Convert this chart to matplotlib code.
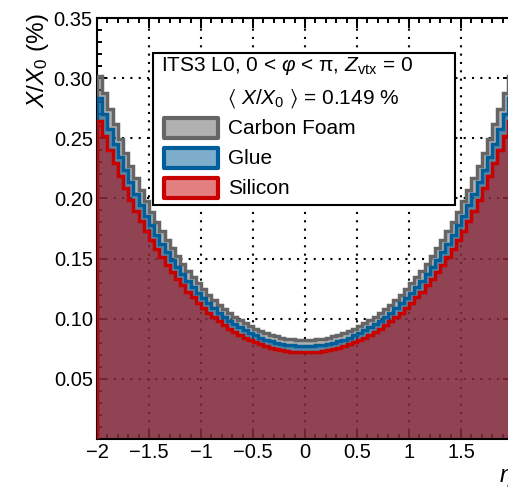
import numpy as np
import matplotlib
matplotlib.use("Agg")
import matplotlib.pyplot as plt
from matplotlib.patches import Rectangle
from matplotlib.ticker import MultipleLocator, FuncFormatter

plt.rcParams['font.family'] = ['Liberation Sans', 'DejaVu Sans']
plt.rcParams['mathtext.fontset'] = 'custom'
plt.rcParams['mathtext.rm'] = 'Liberation Sans'
plt.rcParams['mathtext.it'] = 'Liberation Sans:italic'
plt.rcParams['mathtext.fallback'] = 'stixsans'

# 80 bins in eta from -2 to 2, stacked tops (in % of X0)
eta_edges = np.linspace(-2, 2, 81)

silicon = [0.2644, 0.2520, 0.2403, 0.2291, 0.2185, 0.2085, 0.1989, 0.1899, 0.1814, 0.1733,
           0.1656, 0.1583, 0.1515, 0.1450, 0.1389, 0.1331, 0.1277, 0.1226, 0.1178, 0.1133,
           0.1090, 0.1051, 0.1014, 0.0979, 0.0947, 0.0918, 0.0890, 0.0865, 0.0842, 0.0822,
           0.0803, 0.0786, 0.0771, 0.0758, 0.0747, 0.0738, 0.0731, 0.0726, 0.0722, 0.0720,
           0.0720, 0.0722, 0.0726, 0.0731, 0.0738, 0.0747, 0.0758, 0.0771, 0.0786, 0.0803,
           0.0822, 0.0842, 0.0865, 0.0890, 0.0918, 0.0947, 0.0979, 0.1014, 0.1051, 0.1090,
           0.1133, 0.1178, 0.1226, 0.1277, 0.1331, 0.1389, 0.1450, 0.1515, 0.1583, 0.1656,
           0.1733, 0.1814, 0.1899, 0.1989, 0.2085, 0.2185, 0.2291, 0.2403, 0.2520, 0.2644]

glue = [0.2835, 0.2702, 0.2576, 0.2456, 0.2343, 0.2235, 0.2133, 0.2036, 0.1945, 0.1858,
        0.1776, 0.1698, 0.1624, 0.1555, 0.1489, 0.1427, 0.1369, 0.1314, 0.1263, 0.1214,
        0.1169, 0.1127, 0.1087, 0.1050, 0.1016, 0.0984, 0.0955, 0.0928, 0.0903, 0.0881,
        0.0861, 0.0843, 0.0827, 0.0813, 0.0801, 0.0792, 0.0784, 0.0778, 0.0774, 0.0772,
        0.0772, 0.0774, 0.0778, 0.0784, 0.0792, 0.0801, 0.0813, 0.0827, 0.0843, 0.0861,
        0.0881, 0.0903, 0.0928, 0.0955, 0.0984, 0.1016, 0.1050, 0.1087, 0.1127, 0.1169,
        0.1214, 0.1263, 0.1314, 0.1369, 0.1427, 0.1489, 0.1555, 0.1624, 0.1698, 0.1776,
        0.1858, 0.1945, 0.2036, 0.2133, 0.2235, 0.2343, 0.2456, 0.2576, 0.2702, 0.2835]

carbon_foam = [0.3019, 0.2877, 0.2743, 0.2616, 0.2495, 0.2380, 0.2271, 0.2168, 0.2071, 0.1978,
               0.1891, 0.1808, 0.1729, 0.1655, 0.1586, 0.1520, 0.1458, 0.1399, 0.1344, 0.1293,
               0.1245, 0.1199, 0.1157, 0.1118, 0.1081, 0.1048, 0.1016, 0.0988, 0.0962, 0.0938,
               0.0917, 0.0897, 0.0880, 0.0866, 0.0853, 0.0843, 0.0835, 0.0828, 0.0824, 0.0822,
               0.0822, 0.0824, 0.0828, 0.0835, 0.0843, 0.0853, 0.0866, 0.0880, 0.0897, 0.0917,
               0.0938, 0.0962, 0.0988, 0.1016, 0.1048, 0.1081, 0.1118, 0.1157, 0.1199, 0.1245,
               0.1293, 0.1344, 0.1399, 0.1458, 0.1520, 0.1586, 0.1655, 0.1729, 0.1808, 0.1891,
               0.1978, 0.2071, 0.2168, 0.2271, 0.2380, 0.2495, 0.2616, 0.2743, 0.2877, 0.3019]

names = ["Carbon Foam", "Glue", "Silicon"]
colors = [(0.396, 0.396, 0.396), (0.0, 0.373, 0.608), (0.788, 0.0, 0.0)]
y_ticks = [0.05, 0.10, 0.15, 0.20, 0.25, 0.30, 0.35]

W, H = 508, 488
fig = plt.figure(figsize=(W / 100, H / 100), dpi=100)
ax = fig.add_axes([97 / W, 1 - 439 / H, (513 - 97) / W, (439 - 18) / H])

for vals, col in zip([carbon_foam, glue, silicon], colors):
    ax.stairs(vals, eta_edges, fill=True, facecolor=col, alpha=0.5, linewidth=0, zorder=2)
    ax.stairs(vals, eta_edges, color=col, linewidth=2.5, zorder=3)

ax.set_xlim(-2, 2)
ax.set_ylim(0, 0.35)
ax.xaxis.set_major_locator(MultipleLocator(0.5))
ax.xaxis.set_minor_locator(MultipleLocator(0.1))
ax.set_yticks(y_ticks)
ax.yaxis.set_minor_locator(MultipleLocator(0.01))
ax.xaxis.set_major_formatter(FuncFormatter(lambda v, p: ("%g" % v).replace("-", "\u2212")))
ax.yaxis.set_major_formatter(FuncFormatter(lambda v, p: "%.2f" % v))
ax.tick_params(which='both', direction='in', top=True, right=True, width=1.4, labelsize=14.5)
ax.tick_params(which='major', length=7, pad=3)
ax.tick_params(which='minor', length=3.5)
for s in ax.spines.values():
    s.set_linewidth(1.5)
ax.set_axisbelow(True)
ax.grid(True, which='major', color='black', linestyle=(0, (1, 3)), linewidth=1.5)

# overlay in pixel coordinates for legend and titles
ov = fig.add_axes([0, 0, 1, 1])
ov.set_xlim(0, W)
ov.set_ylim(H, 0)
ov.axis('off')

ov.add_patch(Rectangle((153, 53), 302, 152, facecolor='white', edgecolor='black', linewidth=1.5))
ov.text(161, 66, r"ITS3 L0, 0 < $\varphi$ < π, $Z_{\rm vtx}$ = 0", fontsize=15, va='center')
ov.text(227, 99, r"$\langle$ $X/X_{0}$ $\rangle$ = 0.149 %", fontsize=15, va='center')
for i, (name, col) in enumerate(zip(names, colors)):
    yc = 128 + 30 * i
    ov.add_patch(Rectangle((164, yc - 10), 54, 20, facecolor=col + (0.5,), edgecolor=col,
                           linewidth=3, joinstyle='round'))
    ov.text(228, yc, name, fontsize=15, va='center')

ov.text(38, 13, r"$X/X_{0}$ (%)", rotation=90, ha='center', va='top', fontsize=17.5)
ov.text(513, 478, r"$\eta$", ha='right', va='center', fontsize=17)

fig.savefig("out.png", dpi=100)
